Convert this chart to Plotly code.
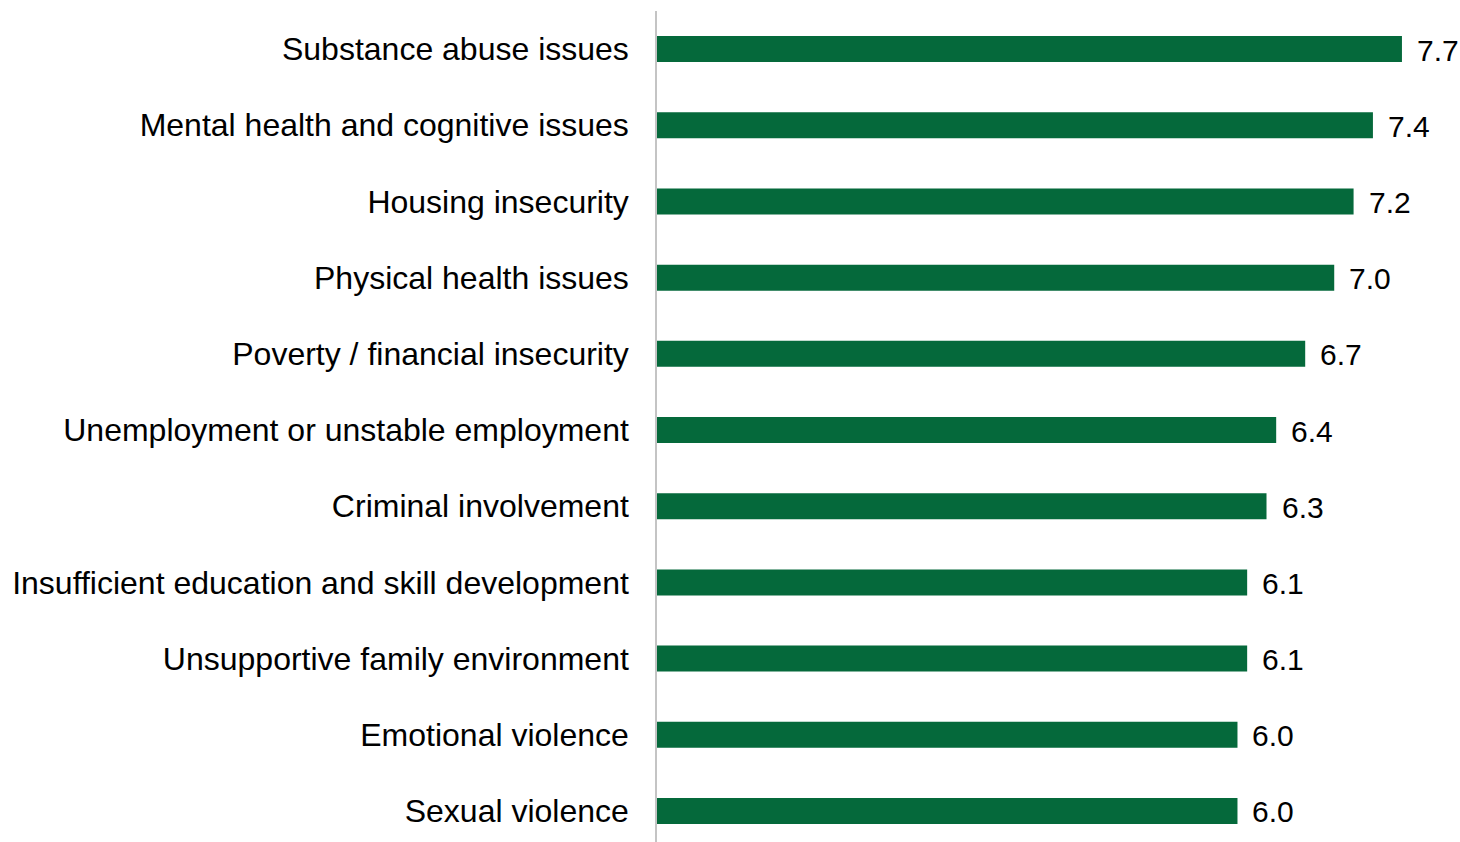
import plotly.graph_objects as go

# Average severity rating for each barrier (0-10 scale)
categories = [
    "Substance abuse issues",
    "Mental health and cognitive issues",
    "Housing insecurity",
    "Physical health issues",
    "Poverty / financial insecurity",
    "Unemployment or unstable employment",
    "Criminal involvement",
    "Insufficient education and skill development",
    "Unsupportive family environment",
    "Emotional violence",
    "Sexual violence",
]
scores = [7.7, 7.4, 7.2, 7.0, 6.7, 6.4, 6.3, 6.1, 6.1, 6.0, 6.0]

BAR_COLOR = "#05693b"
FONT = "Liberation Sans, Arial, sans-serif"

fig = go.Figure(
    go.Bar(
        x=scores,
        y=categories,
        orientation="h",
        marker=dict(color=BAR_COLOR, line=dict(width=0)),
        hoverinfo="skip",
    )
)

# value labels just past the end of each bar
for cat, val in zip(categories, scores):
    fig.add_annotation(
        x=val, y=cat, text=f"{val:.1f}",
        xanchor="left", yanchor="middle", xshift=13, yshift=-1,
        showarrow=False,
        font=dict(family=FONT, size=30, color="#000000"),
    )

fig.update_layout(
    width=1460,
    height=842,
    margin=dict(l=657, r=0, t=11, b=0),
    paper_bgcolor="white",
    plot_bgcolor="white",
    bargap=0.659,
    showlegend=False,
    xaxis=dict(
        range=[0, 8.3],
        visible=False,
        showgrid=False,
        zeroline=False,
    ),
    yaxis=dict(
        categoryorder="array",
        categoryarray=categories,
        range=[10.407, -0.5],
        showline=True,
        linecolor="#c4c4c4",
        linewidth=1.5,
        showgrid=False,
        zeroline=False,
        ticks="",
        ticklabelstandoff=20,
        tickfont=dict(family=FONT, size=32, color="#000000"),
    ),
)

fig.write_html("out.html")
